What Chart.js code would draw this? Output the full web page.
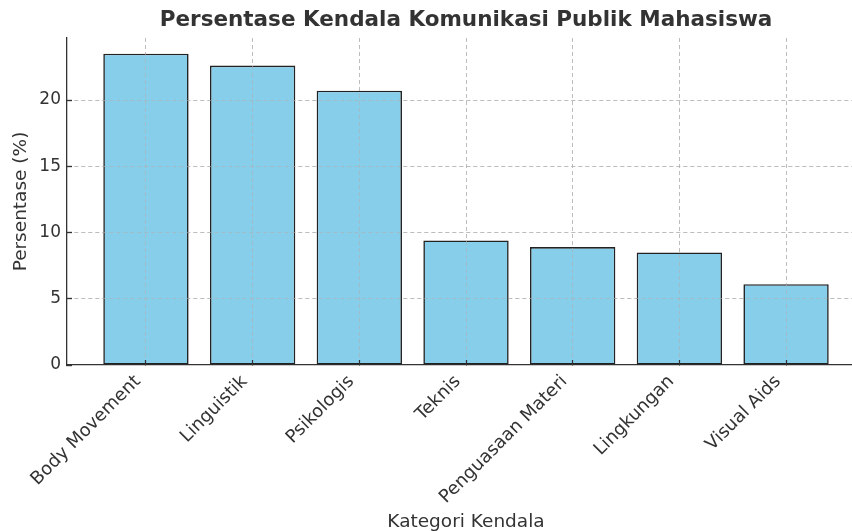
<!DOCTYPE html>
<html>
<head>
<meta charset="utf-8">
<script src="https://cdn.jsdelivr.net/npm/chart.js@4/dist/chart.umd.min.js"></script>
<style>
    html, body { margin: 0; padding: 0; background: #fff; overflow: hidden; width: 852px; height: 531px; }
    /* the original axes run a little past the right edge of the image */
    #wrap { width: 865px; height: 533px; position: relative; }
</style>
</head>
<body>
<div id="wrap"><canvas id="barCanvas"></canvas></div>
<script>
var categories = ['Body Movement', 'Linguistik', 'Psikologis', 'Teknis',
    'Penguasaan Materi', 'Lingkungan', 'Visual Aids'];
var percentages = [23.5, 22.6, 20.7, 9.4, 8.9, 8.5, 6.1];
var yTicks = [0, 5, 10, 15, 20];

var textColor = '#333333';
var gridColor = 'rgba(176, 176, 176, 0.6)';
var fontFamily = '"DejaVu Sans", sans-serif';

// matplotlib draws the grid on top of the bars, so repaint it afterwards
var gridOnTop = {
    id: 'gridOnTop',
    afterDatasetsDraw: function (chart) {
        chart.scales.x.drawGrid(chart.chartArea);
        chart.scales.y.drawGrid(chart.chartArea);
    }
};

var points = percentages.map(function (v, i) { return { x: i, y: v }; });

var ctx = document.getElementById('barCanvas').getContext('2d');
var barChart = new Chart(ctx, {
    type: 'bar',
    data: {
        datasets: [{
            label: 'Persentase',
            data: points,
            backgroundColor: '#87CEEB',
            borderColor: '#222222',
            borderWidth: 1.6,
            borderSkipped: false,
            barPercentage: 0.8,
            categoryPercentage: 1.0
        }]
    },
    options: {
        responsive: true,
        maintainAspectRatio: false,
        animation: false,
        plugins: {
            legend: { display: false },
            tooltip: { enabled: false },
            title: {
                display: true,
                text: 'Persentase Kendala Komunikasi Publik Mahasiswa',
                color: textColor,
                fullSize: false,
                font: { family: fontFamily, size: 21.5, weight: 'bold' },
                padding: { top: 8, bottom: 4.2 }
            }
        },
        scales: {
            x: {
                type: 'linear',
                offset: false,
                min: -0.74,
                max: 6.74,
                afterBuildTicks: function (scale) {
                    scale.ticks = categories.map(function (c, i) { return { value: i }; });
                },
                afterFit: function (scale) {
                    scale.height = 168;
                    scale.paddingLeft = 0;
                    scale.paddingRight = 0;
                },
                grid: {
                    offset: false,
                    color: gridColor,
                    tickColor: textColor,
                    tickLength: -5,
                    tickWidth: 1.2,
                    tickBorderDash: []
                },
                border: { display: true, color: textColor, width: 1.3, dash: [4, 3] },
                ticks: {
                    autoSkip: false,
                    minRotation: 45,
                    maxRotation: 45,
                    padding: 3,
                    color: textColor,
                    font: { family: fontFamily, size: 18 },
                    // trailing spaces pull the label end left of the tick, like ha='right'
                    callback: function (value) { return categories[value] + '  '; }
                },
                title: {
                    display: true,
                    text: 'Kategori Kendala',
                    color: textColor,
                    font: { family: fontFamily, size: 18.5 },
                    padding: { top: 0, bottom: 0 }
                }
            },
            y: {
                min: 0,
                max: 24.68,
                afterBuildTicks: function (scale) {
                    scale.ticks = yTicks.map(function (v) { return { value: v }; });
                },
                afterFit: function (scale) { scale.width = 67; },
                grid: {
                    color: function (c) {
                        return c.tick && c.tick.value === 0 ? 'rgba(0,0,0,0)' : gridColor;
                    },
                    tickColor: textColor,
                    tickLength: -5,
                    tickWidth: 1.2,
                    tickBorderDash: []
                },
                border: { display: true, color: textColor, width: 1.3, dash: [4, 3] },
                ticks: {
                    padding: 11,
                    color: textColor,
                    font: { family: fontFamily, size: 17 }
                },
                title: {
                    display: true,
                    text: 'Persentase (%)',
                    color: textColor,
                    font: { family: fontFamily, size: 18.5 },
                    padding: { top: 10, bottom: 0 }
                }
            }
        }
    },
    plugins: [gridOnTop]
});
</script>
</body>
</html>
